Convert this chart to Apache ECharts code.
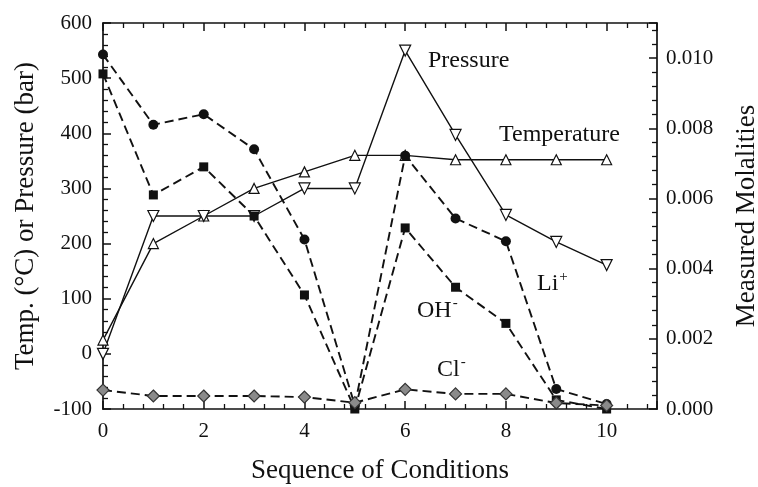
<!DOCTYPE html>
<html>
<head>
<meta charset="utf-8">
<script src="https://cdn.jsdelivr.net/npm/echarts@6/dist/echarts.min.js"></script>
<style>
  html, body { margin: 0; padding: 0; background: #fff; }
  #chart { width: 758px; height: 487px; }
</style>
</head>
<body>
<div id="chart"></div>
<script>
// Sequence of experimental conditions
const conditions = [0, 1, 2, 3, 4, 5, 6, 7, 8, 9, 10];

// Left axis: temperature (°C) and pressure (bar)
const temperature = [25, 200, 250, 300, 330, 360, 360, 352, 352, 352, 352];
const pressure = [0, 250, 250, 250, 300, 300, 550, 397, 252, 203, 161];

// Right axis: measured molalities
const liMolality = [0.0101, 0.0081, 0.0084, 0.0074, 0.00483, 0.0001, 0.00722, 0.00543, 0.00478, 0.00057, 0.00014];
const ohMolality = [0.00955, 0.0061, 0.0069, 0.0055, 0.00325, 0.0, 0.00516, 0.00347, 0.00244, 0.00026, 0.0];
const clMolality = [0.00054, 0.00037, 0.00037, 0.00037, 0.00034, 0.00018, 0.00056, 0.00043, 0.00043, 0.00017, 0.0001];

const pairs = (ys) => conditions.map((x, i) => [x, ys[i]]);

const FONT = '"Liberation Serif", "Times New Roman", serif';
const INK = '#111';

// Ticks point into the plot frame on all four sides
const tickStyle = () => ({ show: true, inside: true, length: 8, lineStyle: { color: INK, width: 1.5 } });
const minorStyle = () => ({ show: true, splitNumber: 5, length: 5, lineStyle: { color: INK, width: 1.3 } });
const lineAxis = () => ({ show: true, onZero: false, lineStyle: { color: INK, width: 1.7 } });

const chart = echarts.init(document.getElementById('chart'), null, { renderer: 'canvas' });

const solid = { color: INK, width: 1.4, type: 'solid' };
const dashed = { color: INK, width: 1.9, type: [9, 5] };

chart.setOption({
  animation: false,
  backgroundColor: '#fff',
  grid: { left: 103, right: 101, top: 23, bottom: 78, containLabel: false, outerBoundsMode: 'none' },
  xAxis: [
    {
      type: 'value', min: 0, max: 11, interval: 2, position: 'bottom',
      name: 'Sequence of Conditions', nameLocation: 'middle', nameGap: 48,
      nameTextStyle: { fontFamily: FONT, fontSize: 27, color: INK },
      axisLine: lineAxis(), axisTick: tickStyle(), minorTick: minorStyle(),
      splitLine: { show: false }, minorSplitLine: { show: false },
      axisLabel: { fontFamily: FONT, fontSize: 21, color: INK, margin: 12, showMaxLabel: false }
    },
    {
      type: 'value', min: 0, max: 11, interval: 2, position: 'top',
      axisLine: lineAxis(), axisTick: tickStyle(), minorTick: minorStyle(),
      splitLine: { show: false }, minorSplitLine: { show: false }, axisLabel: { show: false }
    }
  ],
  yAxis: [
    {
      type: 'value', min: -100, max: 600, interval: 100, position: 'left',
      name: 'Temp. (°C) or Pressure (bar)', nameLocation: 'middle', nameGap: 64,
      nameTextStyle: { fontFamily: FONT, fontSize: 27, color: INK },
      axisLine: lineAxis(), axisTick: tickStyle(), minorTick: minorStyle(),
      splitLine: { show: false }, minorSplitLine: { show: false },
      axisLabel: { fontFamily: FONT, fontSize: 21, color: INK, margin: 11 }
    },
    {
      type: 'value', min: 0, max: 0.011, interval: 0.002, position: 'right',
      name: 'Measured Molalities', nameLocation: 'middle', nameGap: 76, nameRotate: 90,
      nameTextStyle: { fontFamily: FONT, fontSize: 27, color: INK },
      axisLine: lineAxis(), axisTick: tickStyle(), minorTick: minorStyle(),
      splitLine: { show: false }, minorSplitLine: { show: false },
      axisLabel: {
        fontFamily: FONT, fontSize: 21, color: INK, margin: 9, showMaxLabel: false,
        formatter: (v) => v.toFixed(3)
      }
    }
  ],
  series: [
    {
      name: 'Temperature', type: 'line', xAxisIndex: 0, yAxisIndex: 0,
      data: pairs(temperature), symbol: 'triangle', symbolSize: 10, z: 3,
      lineStyle: solid,
      itemStyle: { color: '#fff', borderColor: INK, borderWidth: 1.2 }
    },
    {
      name: 'Pressure', type: 'line', xAxisIndex: 0, yAxisIndex: 0,
      data: pairs(pressure), symbol: 'triangle', symbolRotate: 180, symbolSize: 11, z: 3,
      lineStyle: solid,
      itemStyle: { color: '#fff', borderColor: INK, borderWidth: 1.2 }
    },
    {
      name: 'Li+', type: 'line', xAxisIndex: 0, yAxisIndex: 1,
      data: pairs(liMolality), symbol: 'circle', symbolSize: 10, z: 4,
      lineStyle: dashed,
      itemStyle: { color: INK, borderColor: INK, borderWidth: 0 }
    },
    {
      name: 'OH-', type: 'line', xAxisIndex: 0, yAxisIndex: 1,
      data: pairs(ohMolality), symbol: 'rect', symbolSize: 9, z: 4,
      lineStyle: dashed,
      itemStyle: { color: INK, borderColor: INK, borderWidth: 0 }
    },
    {
      name: 'Cl-', type: 'line', xAxisIndex: 0, yAxisIndex: 1,
      data: pairs(clMolality), symbol: 'diamond', symbolSize: 12, z: 5,
      lineStyle: dashed,
      itemStyle: { color: '#8a8a8a', borderColor: '#333', borderWidth: 1.2 }
    }
  ],
  graphic: [
    { type: 'text', left: 428, top: 49, style: { text: 'Pressure', font: '24px ' + FONT, fill: INK } },
    { type: 'text', left: 499, top: 123, style: { text: 'Temperature', font: '24px ' + FONT, fill: INK } },
    {
      type: 'text', left: 537, top: 270,
      style: {
        text: '{b|Li}{s|+}', fill: INK,
        rich: { b: { fontFamily: FONT, fontSize: 24 }, s: { fontFamily: FONT, fontSize: 15, padding: [0, 0, 12, 1] } }
      }
    },
    {
      type: 'text', left: 417, top: 296,
      style: {
        text: '{b|OH}{s|-}', fill: INK,
        rich: { b: { fontFamily: FONT, fontSize: 24 }, s: { fontFamily: FONT, fontSize: 15, padding: [0, 0, 14, 1] } }
      }
    },
    {
      type: 'text', left: 437, top: 355,
      style: {
        text: '{b|Cl}{s|-}', fill: INK,
        rich: { b: { fontFamily: FONT, fontSize: 24 }, s: { fontFamily: FONT, fontSize: 15, padding: [0, 0, 14, 1] } }
      }
    }
  ]
});
</script>
</body>
</html>
